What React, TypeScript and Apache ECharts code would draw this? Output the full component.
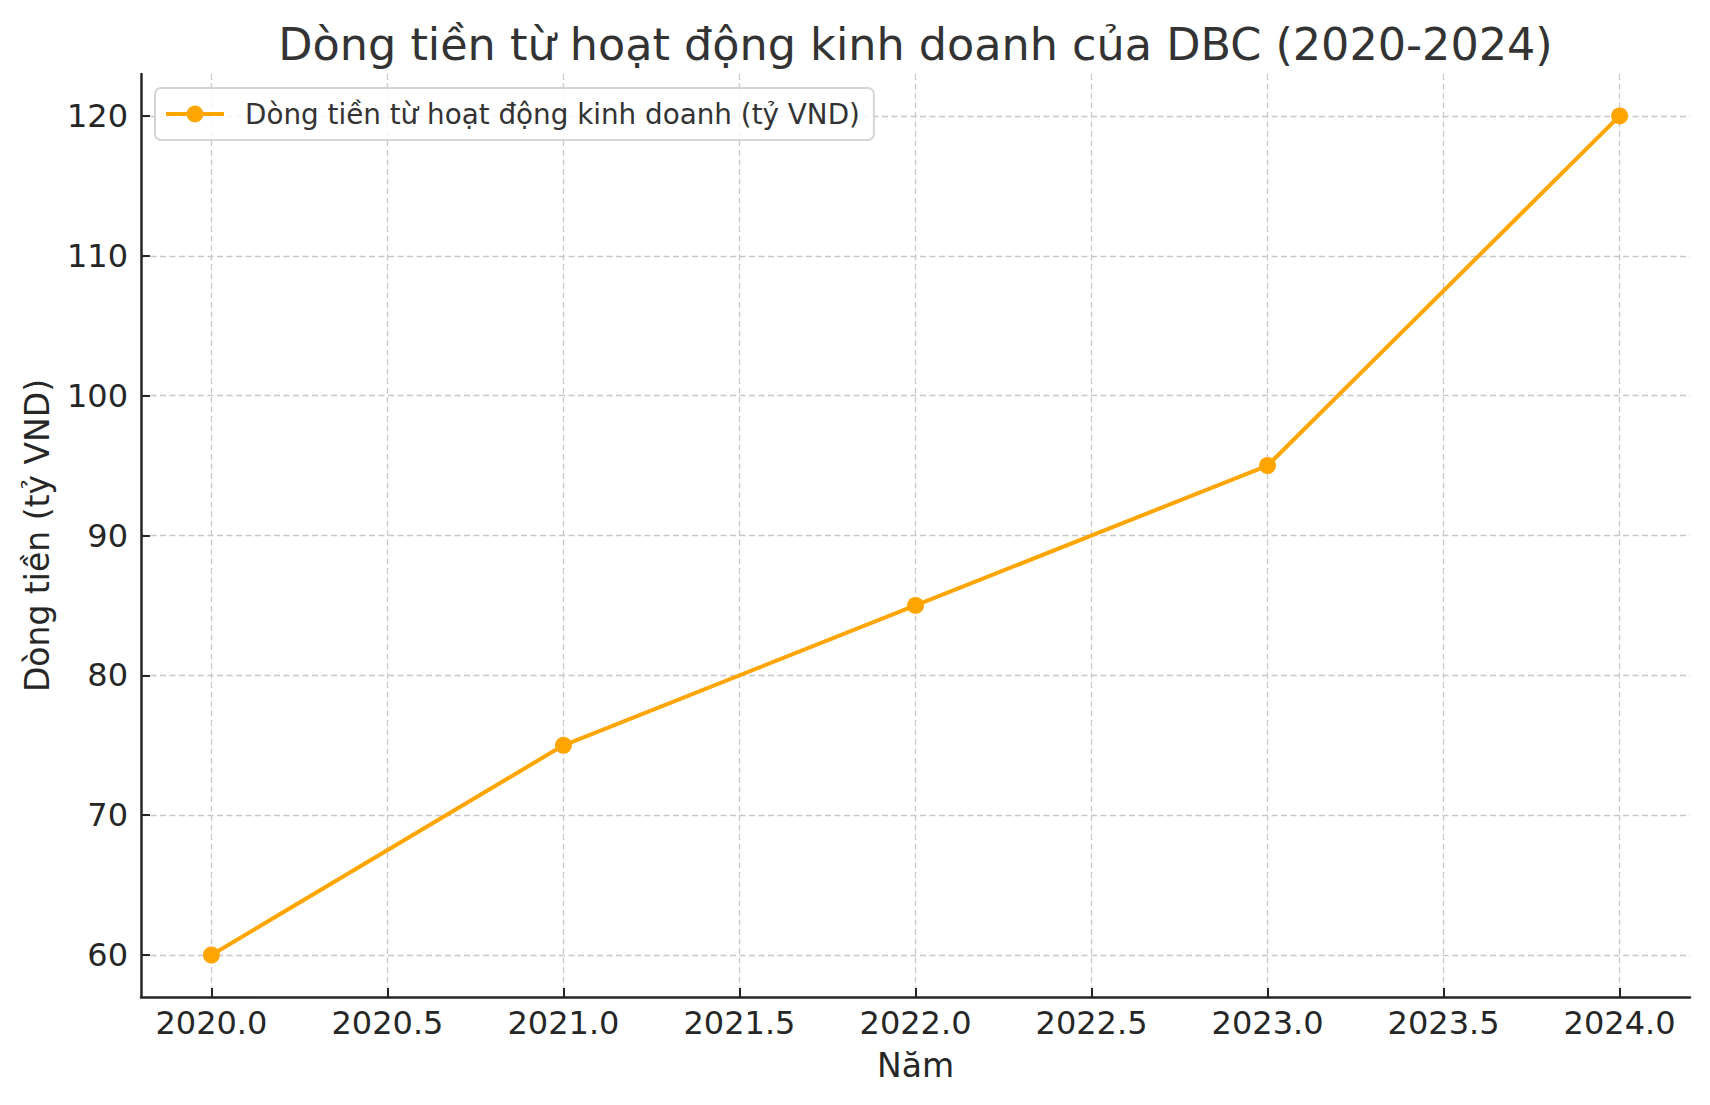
import { useEffect, useRef } from "react";
import * as echarts from "echarts";

// Chart data
const years = [2020, 2021, 2022, 2023, 2024];
const cashFlow = [60, 75, 85, 95, 120];
const xTicks = [2020, 2020.5, 2021, 2021.5, 2022, 2022.5, 2023, 2023.5, 2024];
const yTicks = [60, 70, 80, 90, 100, 110, 120];

const titleText = "Dòng tiền từ hoạt động kinh doanh của DBC (2020-2024)";
const seriesName = "Dòng tiền từ hoạt động kinh doanh (tỷ VND)";
const xName = "Năm";
const yName = "Dòng tiền (tỷ VND)";

const FONT = "DejaVu Sans";
const INK = "#262626";
const ORANGE = "#FFA500";

export default function App() {
  const chartRef = useRef<HTMLDivElement>(null);

  useEffect(() => {
    if (!chartRef.current) return;
    const chart = echarts.init(chartRef.current, null, { renderer: "svg" });

    const gridLine = { lineStyle: { color: "#c8c8c8", width: 1.3, type: [6, 3.5] } };

    chart.setOption({
      animation: false,
      backgroundColor: "#ffffff",
      textStyle: { fontFamily: FONT },
      graphic: [
        {
          type: "text",
          x: 915.5,
          y: 44,
          style: {
            text: titleText,
            fontFamily: FONT,
            fontSize: 44.5,
            fill: "#333333",
            textAlign: "center",
            textVerticalAlign: "middle",
          },
        },
      ],
      grid: { left: 141, right: 20, top: 74, bottom: 108, containLabel: false },
      legend: {
        data: [seriesName],
        left: 155,
        top: 88,
        padding: [12, 14, 12, 9],
        itemWidth: 58,
        itemHeight: 21,
        borderColor: "#d5d5d5",
        borderWidth: 2,
        borderRadius: 6,
        backgroundColor: "rgba(255,255,255,0.8)",
        lineStyle: { width: 4, color: ORANGE },
        textStyle: { fontFamily: FONT, fontSize: 27.8, color: "#333333", padding: [0, 0, 0, 16] },
      },
      xAxis: {
        type: "value",
        min: 2019.8,
        max: 2024.2,
        name: xName,
        nameLocation: "middle",
        nameGap: 52,
        nameTextStyle: { fontFamily: FONT, fontSize: 33, color: INK },
        axisLine: { show: true, lineStyle: { color: INK, width: 2.5 } },
        axisTick: { show: true, inside: true, length: 9, lineStyle: { color: INK, width: 2 }, customValues: xTicks },
        axisLabel: {
          customValues: xTicks,
          formatter: (v: number) => v.toFixed(1),
          fontFamily: FONT,
          fontSize: 32,
          color: INK,
          margin: 10,
        },
        splitLine: { show: true, ...gridLine },
      },
      yAxis: {
        type: "value",
        min: 57,
        max: 123,
        name: yName,
        nameLocation: "middle",
        nameRotate: 90,
        nameGap: 87,
        nameTextStyle: { fontFamily: FONT, fontSize: 33, color: INK },
        axisLine: { show: true, lineStyle: { color: INK, width: 2.5 } },
        axisTick: { show: true, inside: true, length: 9, lineStyle: { color: INK, width: 2 }, customValues: yTicks },
        axisLabel: {
          customValues: yTicks,
          fontFamily: FONT,
          fontSize: 32,
          color: INK,
          margin: 13,
        },
        splitLine: { show: true, ...gridLine },
      },
      series: [
        {
          name: seriesName,
          type: "line",
          data: years.map((y, i) => [y, cashFlow[i]]),
          color: ORANGE,
          lineStyle: { color: ORANGE, width: 4 },
          itemStyle: { color: ORANGE },
          symbol: "circle",
          symbolSize: 17,
          showSymbol: true,
        },
      ],
    });

    return () => {
      chart.dispose();
    };
  }, []);

  return (
    <div
      ref={chartRef}
      style={{ position: "absolute", left: 0, top: 0, width: 1710, height: 1105, background: "#fff" }}
    />
  );
}
